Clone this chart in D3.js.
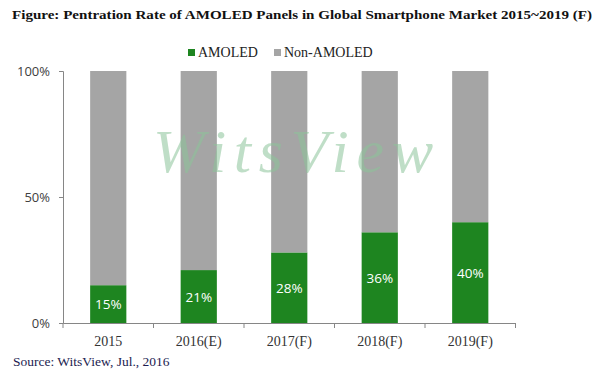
<!DOCTYPE html>
<html>
<head>
<meta charset="utf-8">
<script src="https://cdn.jsdelivr.net/npm/d3@7"></script>
<style>
  body { margin: 0; background: #fff; }
  svg { display: block; }
</style>
</head>
<body>
<div id="chart"></div>
<script>
// values
const years = ["2015", "2016(E)", "2017(F)", "2018(F)", "2019(F)"];
const amoled = [15, 21, 28, 36, 40];
const nonAmoled = amoled.map((v) => 100 - v);
const seriesNames = ["AMOLED", "Non-AMOLED"];
const yTicks = [0, 50, 100];

const width = 600;
const height = 375;
const margin = { top: 71, right: 85, bottom: 52, left: 63 };

const green = "#1e8520";
const grey = "#a5a5a5";
const serif = "'Liberation Serif', 'DejaVu Serif', serif";
const sans = "'Open Sans', 'Liberation Sans', sans-serif";

const svg = d3
  .select("#chart")
  .append("svg")
  .attr("width", width)
  .attr("height", height);

const x = d3
  .scaleBand()
  .domain(years)
  .range([margin.left, width - margin.right + 0.5])
  .paddingInner(0.6)
  .paddingOuter(0.3);

const y = d3
  .scaleLinear()
  .domain([0, 100])
  .range([height - margin.bottom, margin.top]);

// title
svg
  .append("text")
  .attr("x", 12)
  .attr("y", 19)
  .attr("textLength", 580)
  .attr("lengthAdjust", "spacingAndGlyphs")
  .style("font-family", serif)
  .style("font-weight", "bold")
  .style("font-size", "13.5px")
  .attr("fill", "#111")
  .text("Figure: Pentration Rate of AMOLED Panels in Global Smartphone Market 2015~2019 (F)");

// stacked bars
const stack = d3.stack().keys(seriesNames);
const rows = years.map((yr, i) => ({
  year: yr,
  AMOLED: amoled[i],
  "Non-AMOLED": nonAmoled[i],
}));
const colour = d3.scaleOrdinal().domain(seriesNames).range([green, grey]);

svg
  .append("g")
  .selectAll("g")
  .data(stack(rows))
  .join("g")
  .attr("fill", (d) => colour(d.key))
  .selectAll("rect")
  .data((d) => d)
  .join("rect")
  .attr("x", (d) => x(d.data.year))
  .attr("width", x.bandwidth())
  .attr("y", (d) => y(d[1]))
  .attr("height", (d) => y(d[0]) - y(d[1]));

// watermark, laid over the bars
svg
  .append("text")
  .attr("x", 153)
  .attr("y", 172)
  .attr("textLength", 280)
  .attr("lengthAdjust", "spacing")
  .style("font-family", serif)
  .style("font-style", "italic")
  .style("font-size", "62px")
  .attr("fill", "#8cc49a")
  .attr("opacity", 0.55)
  .text("WitsView");

// value labels
svg
  .append("g")
  .selectAll("text")
  .data(rows)
  .join("text")
  .attr("x", (d) => x(d.year) + x.bandwidth() / 2)
  .attr("y", (d) => y(d.AMOLED / 2) + 5)
  .attr("text-anchor", "middle")
  .style("font-family", sans)
  .style("font-size", "13.5px")
  .attr("fill", "#fff")
  .text((d) => d.AMOLED + "%");

// y axis
const yAxis = svg
  .append("g")
  .attr("transform", `translate(${margin.left},0)`)
  .call(
    d3
      .axisLeft(y)
      .tickValues(yTicks)
      .tickSize(4)
      .tickPadding(9)
      .tickFormat((d) => d + "%")
  );
yAxis.select(".domain").attr("stroke", "#868686");
yAxis.selectAll(".tick line").attr("stroke", "#868686");
yAxis
  .selectAll(".tick text")
  .style("font-family", sans)
  .style("font-size", "13px")
  .attr("fill", "#404040");

// x axis: labels under each band, ticks at band boundaries
const xAxis = svg
  .append("g")
  .attr("transform", `translate(0,${y(0)})`)
  .call(d3.axisBottom(x).tickSize(0).tickPadding(13));
xAxis.select(".domain").attr("stroke", "#868686");
xAxis
  .selectAll(".tick text")
  .style("font-family", serif)
  .style("font-size", "14px")
  .attr("fill", "#333");

const boundaries = years
  .map((d) => x(d) - (x.step() * x.paddingInner()) / 2)
  .concat([x(years[years.length - 1]) + x.bandwidth() + (x.step() * x.paddingInner()) / 2]);
xAxis
  .selectAll(".bound")
  .data(boundaries)
  .join("line")
  .attr("class", "bound")
  .attr("x1", (d) => d)
  .attr("x2", (d) => d)
  .attr("y1", 0)
  .attr("y2", 5)
  .attr("stroke", "#868686");

// legend
const legendPos = [188, 274];
const legend = svg
  .append("g")
  .selectAll("g")
  .data(seriesNames)
  .join("g")
  .attr("transform", (d, i) => `translate(${legendPos[i]},49)`);
legend
  .append("rect")
  .attr("width", 7)
  .attr("height", 7)
  .attr("fill", (d) => colour(d));
legend
  .append("text")
  .attr("x", 10)
  .attr("y", 8)
  .style("font-family", serif)
  .style("font-size", "14px")
  .attr("fill", "#222")
  .text((d) => d);

// source
svg
  .append("text")
  .attr("x", 13)
  .attr("y", 366)
  .style("font-family", serif)
  .style("font-size", "13.5px")
  .attr("fill", "#1c1c50")
  .text("Source: WitsView, Jul., 2016");
</script>
</body>
</html>
